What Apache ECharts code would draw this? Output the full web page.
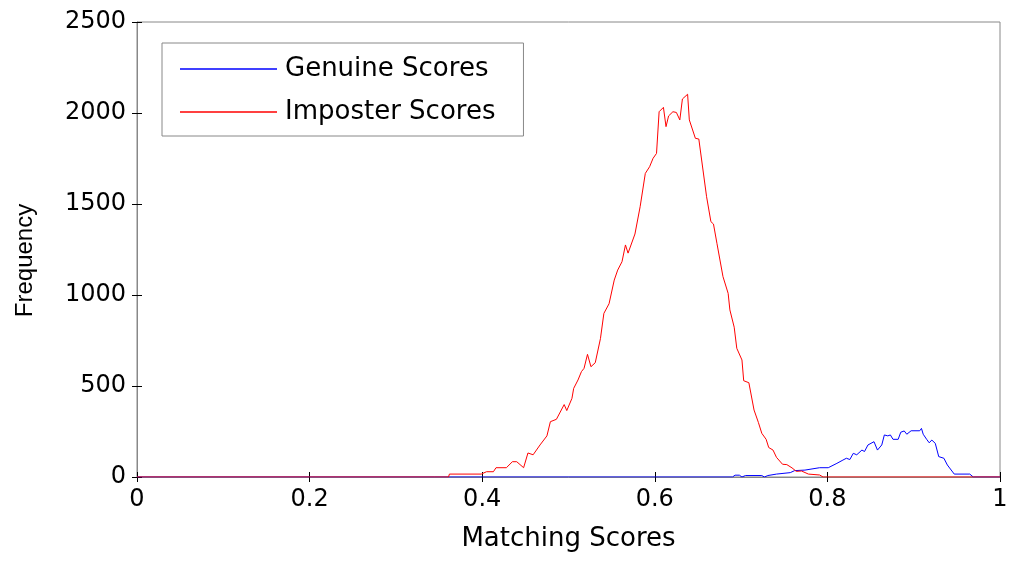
<!DOCTYPE html>
<html>
<head>
<meta charset="utf-8">
<script src="https://cdn.jsdelivr.net/npm/echarts@6/dist/echarts.min.js"></script>
<style>html,body{margin:0;padding:0;background:#fff}#c{width:1024px;height:568px}</style>
</head>
<body>
<div id="c"></div>
<script>
const xTicks = [0, 0.2, 0.4, 0.6, 0.8, 1];
const yTicks = [0, 500, 1000, 1500, 2000, 2500];

const genuineX = [0, 0.690, 0.693, 0.698, 0.701, 0.705, 0.724, 0.727, 0.731, 0.741, 0.757, 0.762, 0.774, 0.791, 0.801, 0.811, 0.818, 0.822, 0.826, 0.830, 0.834, 0.840, 0.843, 0.847, 0.854, 0.858, 0.863, 0.866, 0.870, 0.873, 0.876, 0.882, 0.885, 0.889, 0.892, 0.897, 0.907, 0.909, 0.911, 0.915, 0.918, 0.921, 0.925, 0.929, 0.935, 0.939, 0.947, 0.965, 0.969, 1];
const genuineY = [0, 0, 10, 10, 0, 8, 8, 0, 8, 16, 24, 35, 38, 51, 51, 75, 93, 103, 96, 130, 122, 148, 140, 176, 194, 148, 176, 231, 226, 231, 207, 207, 246, 253, 235, 254, 254, 267, 235, 207, 188, 203, 185, 112, 103, 66, 16, 16, 0, 0];

const imposterX = [0, 0.361, 0.362, 0.399, 0.405, 0.413, 0.416, 0.428, 0.435, 0.440, 0.448, 0.453, 0.459, 0.467, 0.475, 0.479, 0.486, 0.495, 0.498, 0.504, 0.506, 0.511, 0.515, 0.518, 0.522, 0.526, 0.531, 0.537, 0.541, 0.547, 0.553, 0.557, 0.562, 0.566, 0.569, 0.577, 0.583, 0.589, 0.594, 0.598, 0.602, 0.605, 0.610, 0.613, 0.616, 0.621, 0.625, 0.629, 0.632, 0.638, 0.640, 0.647, 0.651, 0.660, 0.665, 0.668, 0.672, 0.679, 0.685, 0.687, 0.692, 0.695, 0.701, 0.703, 0.709, 0.715, 0.720, 0.724, 0.729, 0.732, 0.737, 0.741, 0.748, 0.753, 0.759, 0.764, 0.770, 0.778, 0.791, 0.795, 1];
const imposterY = [0, 0, 16, 16, 29, 29, 51, 51, 84, 84, 51, 132, 122, 176, 226, 304, 317, 398, 365, 432, 487, 533, 579, 597, 674, 606, 628, 760, 899, 952, 1082, 1137, 1183, 1275, 1230, 1335, 1485, 1668, 1705, 1751, 1778, 2007, 2031, 1925, 1984, 2007, 2003, 1962, 2077, 2103, 1962, 1861, 1857, 1540, 1403, 1390, 1284, 1101, 1009, 918, 823, 707, 643, 529, 518, 368, 300, 240, 207, 162, 148, 108, 70, 68, 50, 31, 33, 16, 11, 0, 0];

const seriesNames = ['Genuine Scores', 'Imposter Scores'];
const xName = 'Matching Scores';
const yName = 'Frequency';

const zip = (a, b) => a.map((v, i) => [v, b[i]]);
const labelFont = 'DejaVu Sans';
const tickStyle = {show: true, inside: true, length: 5, lineStyle: {color: '#000', width: 1}};

const chart = echarts.init(document.getElementById('c'), null, {renderer: 'canvas'});
chart.setOption({
  animation: false,
  backgroundColor: '#fff',
  grid: {left: 137, right: 24, top: 22, bottom: 91, show: true, borderColor: '#888', borderWidth: 1, backgroundColor: 'transparent'},
  legend: {
    orient: 'vertical', left: 162, top: 43,
    padding: [13, 28, 11, 18],
    itemGap: 17, itemWidth: 97, itemHeight: 1.5,
    icon: 'rect',
    borderColor: '#888', borderWidth: 1,
    textStyle: {fontFamily: labelFont, fontSize: 26, color: '#000', padding: [0, 0, 0, 3]},
    data: seriesNames
  },
  xAxis: [{
    type: 'value', min: xTicks[0], max: xTicks[xTicks.length - 1], interval: 0.2,
    name: xName, nameLocation: 'middle', nameGap: 49,
    nameTextStyle: {fontFamily: labelFont, fontSize: 26, color: '#000'},
    axisLine: {show: true, lineStyle: {color: '#888'}},
    axisTick: tickStyle,
    splitLine: {show: false},
    axisLabel: {fontFamily: labelFont, fontSize: 24, color: '#000', margin: 11,
      formatter: v => String(+v.toFixed(1))}
  }, {
    type: 'value', position: 'top', min: xTicks[0], max: xTicks[xTicks.length - 1], interval: 0.2,
    axisLine: {show: false}, axisTick: tickStyle, axisLabel: {show: false}, splitLine: {show: false}
  }],
  yAxis: [{
    type: 'value', min: yTicks[0], max: yTicks[yTicks.length - 1], interval: 500,
    name: yName, nameLocation: 'middle', nameGap: 100,
    nameTextStyle: {fontFamily: 'Liberation Sans', fontSize: 24, color: '#000', padding: [0, 22, 0, 0]},
    axisLine: {show: true, lineStyle: {color: '#888'}},
    axisTick: tickStyle,
    splitLine: {show: false},
    axisLabel: {fontFamily: labelFont, fontSize: 24, color: '#000', margin: 11,
      formatter: v => String(v)}
  }, {
    type: 'value', position: 'right', min: yTicks[0], max: yTicks[yTicks.length - 1], interval: 500,
    axisLine: {show: false}, axisTick: tickStyle, axisLabel: {show: false}, splitLine: {show: false}
  }],
  series: [{
    name: seriesNames[0], type: 'line', data: zip(genuineX, genuineY),
    showSymbol: false, symbol: 'none', color: '#0000ff',
    lineStyle: {color: '#0000ff', width: 1}
  }, {
    name: seriesNames[1], type: 'line', data: zip(imposterX, imposterY),
    showSymbol: false, symbol: 'none', color: '#ff0000',
    lineStyle: {color: '#ff0000', width: 1}
  }]
});
</script>
</body>
</html>
